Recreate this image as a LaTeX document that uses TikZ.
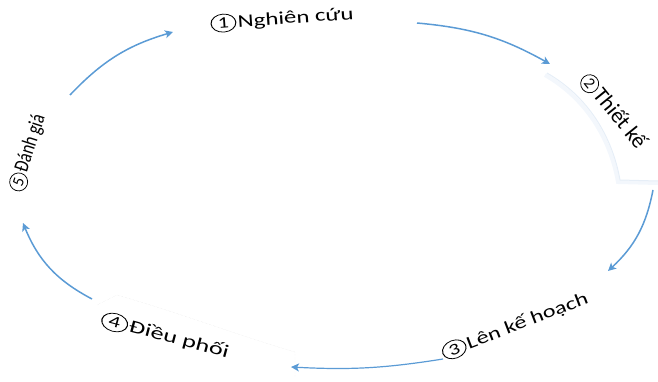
\documentclass[tikz,border=0pt]{standalone}
\usepackage{fontspec}
\setmainfont{Carlito}
\usetikzlibrary{arrows.meta}
\definecolor{arr}{RGB}{91,155,213}
\definecolor{shad}{RGB}{230,238,247}
\definecolor{shadlight}{RGB}{243,247,252}
\newcommand{\cdig}[1]{\tikz[baseline=(d.base)]\node[draw=black,circle,line width=0.75pt,inner sep=0pt,minimum size=18pt,font=\fontsize{16}{16}\selectfont](d){#1};}
\begin{document}
\begin{tikzpicture}[x=1pt,y=1pt,
  lbl/.style={font=\fontsize{18}{18}\selectfont, inner sep=0pt, anchor=center, text=black},
  arrowc/.style={draw=arr, line width=1.5pt, -{Stealth[length=8pt,width=8pt,inset=2pt]}},
  boxedge/.style={draw=shad, line width=1pt},
  boxglow/.style={draw=shadlight, line width=4pt},
  faintedge/.style={draw=black!10, line width=0.4pt, densely dotted}]
\useasboundingbox (0,0) rectangle (658,381);
% faint label boxes
\draw[boxglow] (545,306) .. controls (585,283) and (610,244) .. (618,199) -- (658,198);
\draw[boxedge] (547,308) .. controls (587,285) and (612,246) .. (620,201) -- (658,200);
\draw[faintedge] (97,76) -- (117,86) .. controls (180,68) and (240,45) .. (295,29) -- (295,3);
% labels
\node[lbl, rotate=4, xscale=1.38] (l1) at (282,362) {\cdig{1}\hspace{1pt}Nghiên cứu};
\node[lbl, rotate=-51, font=\fontsize{22}{22}\selectfont] (l2) at (613,270) {\cdig{2}\hspace{1pt}Thiết kế};
\node[lbl, rotate=21, xscale=1.35] (l3) at (515,55) {\cdig{3}\hspace{1pt}Lên kế hoạch};
\node[lbl, rotate=-15, xscale=1.46] (l4) at (165,45) {\cdig{4}\hspace{1pt}Điều phối};
\node[lbl, rotate=72, font=\fontsize{21}{21}\selectfont] (l5) at (28,228) {\cdig{5}\hspace{1pt}\scalebox{0.8}[1]{Đánh giá}};
% arrow end points
\coordinate (a12s) at (417,358); \coordinate (a12e) at (550,317);
\coordinate (a23s) at (653,191); \coordinate (a23e) at (608,110);
\coordinate (a34s) at (443,22);  \coordinate (a34e) at (291,14);
\coordinate (a45s) at (92,82);   \coordinate (a45e) at (23,158);
\coordinate (a51s) at (70,286);  \coordinate (a51e) at (173,349);
\draw[arrowc] (a12s) to[bend left=12] (a12e);
\draw[arrowc] (a23s) to[bend left=18] (a23e);
\draw[arrowc, line width=1.2pt] (a34s) to[bend left=6] (a34e);
\draw[arrowc] (a45s) to[bend left=20] (a45e);
\draw[arrowc] (a51s) to[bend left=15] (a51e);
\end{tikzpicture}
\end{document}
